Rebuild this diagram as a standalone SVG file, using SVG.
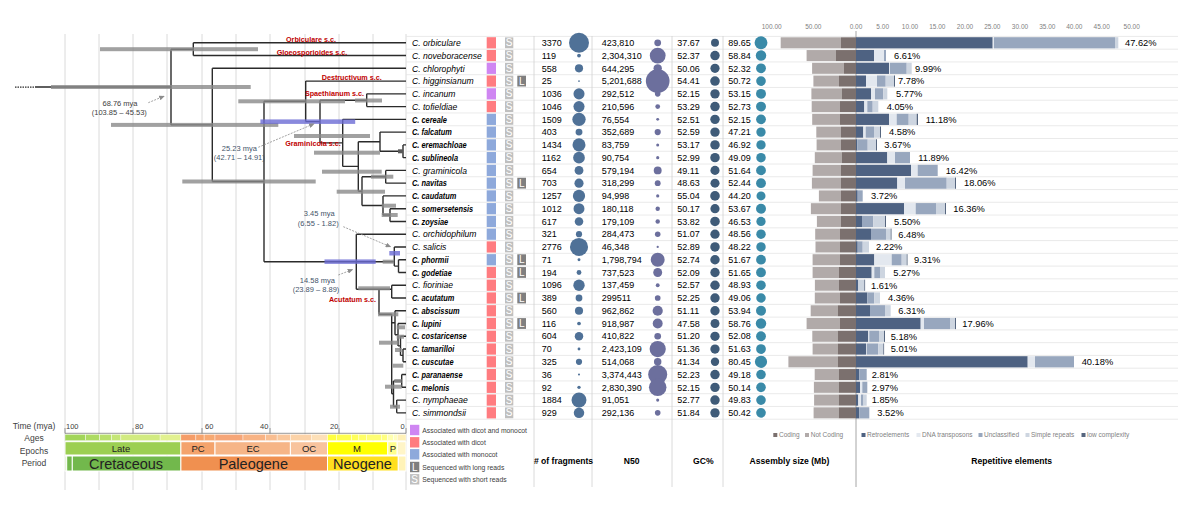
<svg xmlns="http://www.w3.org/2000/svg" xmlns:xlink="http://www.w3.org/1999/xlink" width="1183" height="515" viewBox="0 0 1183 515">
<style>
text{font-family:"Liberation Sans",Arial,sans-serif}
.br{stroke:#2b2b2b;stroke-width:1.4;fill:none}
.hpd{fill:#8a8a8a;opacity:.8}
.hpdb{fill:#6b6bd4;opacity:.8}
.cl{font-weight:bold;font-size:7.2px;fill:#c00000;text-anchor:middle}
.ann{font-size:7.5px;fill:#44546a;text-anchor:middle}
.ar{stroke:#8c8c8c;stroke-width:.8;fill:none;stroke-dasharray:2 1.2}
.nm{font-style:italic;font-size:8.6px;fill:#000}
.nb{font-style:italic;font-weight:bold;font-size:8.6px;fill:#000}
.num{font-size:9px;fill:#000}
.pl{font-size:9.3px;fill:#000}
.hD{fill:#ff7c80}.hM{fill:#8ea9db}.hB{fill:#cf86f2}
.bx{font-size:10px;fill:#fff;text-anchor:middle}
.cf{fill:#4f7197}.cn{fill:#6c6f9d}.cg{fill:#3f5b78}.ca{fill:#3a8aa8}
.nc{fill:#b1aaa9}.co{fill:#7b706e}
.re{fill:#4e6282}.dn{fill:#e3e8ef}.un{fill:#98a7be}.sr{fill:#cdd5e0}.lc{fill:#56667f}
.ax{font-size:6.5px;fill:#7f7f7f;text-anchor:middle}
.lg{font-size:6.8px;fill:#404040}
.hd{font-weight:bold;font-size:8.6px;fill:#000;text-anchor:middle}
.ts{font-size:8.5px;fill:#404040;text-anchor:middle}
.ep{font-size:9.5px;fill:#222;text-anchor:middle}
.pe{font-size:14.5px;fill:#222;text-anchor:middle}
</style>
<defs>
<g id="sbox"><rect x="505" y="-5.4" width="8.3" height="10.8" fill="#bfbfbf"/><text class="bx" x="509.2" y="3.6">S</text></g>
<g id="lbox"><rect x="517.3" y="-5.4" width="8.7" height="10.8" fill="#7f7f7f"/><text class="bx" x="521.7" y="3.6">L</text></g>
<marker id="ah" markerWidth="7" markerHeight="6" refX="6" refY="3" orient="auto"><path d="M0,0L7,3L0,6z" fill="#8c8c8c"/></marker>
</defs>
<rect width="1183" height="515" fill="#fff"/>

<g id="gridlines" stroke="#dadada" stroke-width="1">
<path d="M65 34V490M99 34V490M133 34V490M167 34V490M202 34V490M236 34V490M270 34V490M305 34V490M339 34V490M373 34V490M406 34V490"/>
</g>

<g id="separators" stroke="#e4e4e4" stroke-width="0.8" fill="none">
<path d="M406 36.42H1178M406 49.18H1178M406 61.94H1178M406 74.7H1178M406 87.46H1178M406 100.22H1178M406 112.98H1178M406 125.74H1178M406 138.5H1178M406 151.26H1178M406 164.02H1178M406 176.78H1178M406 189.54H1178M406 202.3H1178M406 215.06H1178M406 227.82H1178M406 240.58H1178M406 253.34H1178M406 266.1H1178M406 278.86H1178M406 291.62H1178M406 304.38H1178M406 317.14H1178M406 329.9H1178M406 342.66H1178M406 355.42H1178M406 368.18H1178M406 380.94H1178M406 393.7H1178M406 406.46H1178M406 419.22H1178"/>
<path stroke="#d0d0d0" d="M534 36V487M592 36V487M672 36V487M723 36V487"/>
<path stroke="#a6a6a6" stroke-width="1" d="M856 31V487"/>
</g>

<g id="connectors">
<path d="M15 87.05H35" stroke="#2b2b2b" stroke-width="1.2" stroke-dasharray="1.5 1"/>
<path class="br" d="M35 87.05H171M171 49.2V124.9M171 49.2H193.3M193.3 42.8V55.56M193.3 42.8H406M193.3 55.56H406
M171 124.9H212.3M212.3 68.32V181.5M212.3 68.32H406M212.3 181.5H264M264 101.3V261.7
M264 101.3H305.7M305.7 81.08V121.6M305.7 81.08H406M305.7 121.6H320M320 100.2V142.9
M320 100.2H366.7M366.7 93.84V106.6M366.7 93.84H406M366.7 106.6H406
M320 142.9H342.7M342.7 119.36V166.4M342.7 119.36H406M342.7 166.4H358.3M358.3 141.7V191.2
M358.3 141.7H380M380 132.12V151.26M380 132.12H406M380 151.26H403M403 144.88V157.64M403 144.88H406M403 157.64H406
M358.3 191.2H362M362 176.8V205.5M362 176.8H385.7M385.7 170.4V183.16M385.7 170.4H406M385.7 183.16H406
M362 205.5H383M383 195.92V215.06M383 195.92H406M383 215.06H390M390 208.68V221.44M390 208.68H406M390 221.44H406
M264 261.7H394.3M356.3 234.2V289.3M356.3 234.2H406
M394.3 246.96V266.1M394.3 246.96H406M394.3 266.1H398.5M398.5 259.72V272.48M398.5 259.72H406M398.5 272.48H406
M356.3 289.3H379M379 289.3V314.3M379 289.3H391.7M391.7 285.24V298M391.7 285.24H406M391.7 298H406
M379 314.3H391.7M391.7 314.3V393.7M391.7 322.7H395M395 310.76V334.7M395 310.76H406M395 334.7H398M398 323.52V345.9M398 323.52H406
M398 345.9H400.5M400.5 336.28V355.4M400.5 336.28H406M400.5 355.4H403M403 349.04V361.8M403 349.04H406M403 361.8H406
M391.7 393.7H393.5M393.5 381V406.5M393.5 381H401.7M401.7 374.56V387.32M401.7 374.56H406M401.7 387.32H406
M393.5 406.5H396.7M396.7 400.08V412.84M396.7 400.08H406M396.7 412.84H406"/>
</g>

<g id="hpd-bars">
<rect class="hpd" x="51" y="85" width="199.7" height="4"/>
<rect class="hpd" x="100" y="47.2" width="158" height="4"/>
<rect class="hpd" x="111" y="122.9" width="167.3" height="4"/>
<rect class="hpd" x="182.3" y="179.5" width="133.4" height="4"/>
<rect class="hpd" x="238.3" y="99.3" width="106.7" height="4"/>
<rect class="hpd" x="355" y="98.5" width="27" height="4"/>
<rect class="hpdb" x="260.4" y="119.4" width="94.8" height="4.5"/>
<rect class="hpd" x="294" y="134" width="76" height="4"/>
<rect class="hpd" x="314" y="150.7" width="66" height="4"/>
<rect class="hpd" x="322" y="169.7" width="59.7" height="4"/>
<rect class="hpd" x="371" y="174.7" width="22.3" height="4"/>
<rect class="hpd" x="336.7" y="189.7" width="48.3" height="4"/>
<rect class="hpd" x="381.7" y="203.7" width="14.3" height="4"/>
<rect class="hpd" x="381.7" y="213" width="16" height="4"/>
<rect fill="#595959" x="398" y="149.3" width="5" height="4"/>
<rect class="hpdb" x="324.5" y="259.4" width="51.2" height="4.5"/>
<rect class="hpd" x="382.7" y="259.7" width="11.6" height="4"/>
<rect class="hpdb" x="389.3" y="251" width="10.7" height="4.5"/>
<rect class="hpd" x="358.3" y="286.3" width="31.7" height="4"/>
<rect class="hpd" x="378" y="312.3" width="20.3" height="4"/>
<rect class="hpd" x="396.7" y="325.3" width="8.3" height="4"/>
<rect class="hpd" x="396.7" y="334.7" width="7.3" height="4"/>
<rect class="hpd" x="379" y="340.7" width="19.3" height="4"/>
<rect class="hpd" x="395" y="348" width="6.7" height="4"/>
<rect class="hpd" x="392.7" y="363.7" width="10.6" height="4"/>
<rect class="hpd" x="394.3" y="379" width="7.4" height="4"/>
<rect class="hpd" x="385" y="384.7" width="16.7" height="4"/>
<rect class="hpd" x="390" y="404.7" width="10" height="4"/>
</g>

<g id="clade-labels">
<text class="cl" x="311" y="42">Orbiculare s.c.</text>
<text class="cl" x="312" y="54.5">Gloeosporioides s.c.</text>
<text class="cl" x="351.7" y="79.5">Destructivum s.c.</text>
<text class="cl" x="334.5" y="95.5">Spaethianum s.c.</text>
<text class="cl" x="313" y="146">Graminicola s.c.</text>
<text class="cl" x="352.5" y="302">Acutatum s.c.</text>
</g>

<g id="annotations">
<text class="ann" x="120" y="105.5" fill="#404040" style="fill:#404040">68.76 mya</text>
<text class="ann" x="119.3" y="114.5" style="fill:#404040">(103.85 – 45.53)</text>
<path class="ar" d="M148.3 102.7L164 96.2" marker-end="url(#ah)"/>
<text class="ann" x="239.3" y="151">25.23 mya</text>
<text class="ann" x="239.3" y="160">(42.71 – 14.91)</text>
<path class="ar" d="M258.3 147.3L314 123.8" marker-end="url(#ah)"/>
<text class="ann" x="319.3" y="216">3.45 mya</text>
<text class="ann" x="318.3" y="226">(6.55 - 1.82)</text>
<path class="ar" d="M343.3 226.7L390.5 246.8" marker-end="url(#ah)" stroke-dasharray="1 1"/>
<text class="ann" x="317.3" y="282.7">14.58 mya</text>
<text class="ann" x="316" y="291.7">(23.89 – 8.89)</text>
<path class="ar" d="M338.3 275L352.5 269.6" marker-end="url(#ah)"/>
</g>

<g id="timescale">
<text class="ts" x="34" y="428.5">Time (mya)</text>
<text class="ts" x="34" y="441">Ages</text>
<text class="ts" x="34" y="453.5">Epochs</text>
<text class="ts" x="34" y="466">Period</text>
<path d="M65 433.3H406M133 428V433.3M202 428V433.3M270 428V433.3M339 428V433.3M65 428V433.3M406 428V433.3" stroke="#7f7f7f" stroke-width="0.8" fill="none"/>
<g font-size="7.5" fill="#404040">
<text x="66" y="429">100</text><text x="135" y="429">80</text><text x="205" y="429">60</text><text x="260" y="429">40</text><text x="330" y="429">20</text><text x="400.5" y="429">0</text>
</g>
<g id="ages" stroke="#fff" stroke-width="0.4">
<rect x="65" y="434.3" width="20.8" height="6.4" fill="#a2d55a"/>
<rect x="85.8" y="434.3" width="14" height="6.4" fill="#addb62"/>
<rect x="99.8" y="434.3" width="11.9" height="6.4" fill="#b9e06c"/>
<rect x="111.7" y="434.3" width="9.2" height="6.4" fill="#c5e676"/>
<rect x="120.9" y="434.3" width="39.2" height="6.4" fill="#d2eb81"/>
<rect x="160.1" y="434.3" width="20.8" height="6.4" fill="#e2f190"/>
<rect x="180.9" y="434.3" width="15" height="6.4" fill="#f59d68"/>
<rect x="195.9" y="434.3" width="8.2" height="6.4" fill="#f6a46d"/>
<rect x="204.1" y="434.3" width="10.9" height="6.4" fill="#f7a972"/>
<rect x="215" y="434.3" width="28" height="6.4" fill="#f6a678"/>
<rect x="243" y="434.3" width="22.5" height="6.4" fill="#f8b384"/>
<rect x="265.5" y="434.3" width="11.6" height="6.4" fill="#f9be91"/>
<rect x="277.1" y="434.3" width="13.3" height="6.4" fill="#fac89d"/>
<rect x="290.4" y="434.3" width="20.8" height="6.4" fill="#fcd3a8"/>
<rect x="311.2" y="434.3" width="16.3" height="6.4" fill="#fde0b8"/>
<rect x="327.5" y="434.3" width="8.8" height="6.4" fill="#ffff40"/>
<rect x="336.3" y="434.3" width="15.2" height="6.4" fill="#ffff4d"/>
<rect x="351.5" y="434.3" width="7.4" height="6.4" fill="#ffff59"/>
<rect x="358.9" y="434.3" width="7.4" height="6.4" fill="#ffff66"/>
<rect x="366.3" y="434.3" width="15" height="6.4" fill="#ffff73"/>
<rect x="381.3" y="434.3" width="6.5" height="6.4" fill="#ffff80"/>
<rect x="387.8" y="434.3" width="5.9" height="6.4" fill="#ffffb0"/>
<rect x="393.7" y="434.3" width="3.5" height="6.4" fill="#ffffbf"/>
<rect x="397.2" y="434.3" width="8.8" height="6.4" fill="#fff1b8"/>
</g>
<g id="epochs" stroke="#fff" stroke-width="1">
<rect x="65" y="441.7" width="115.9" height="13.3" fill="#9ccf52"/>
<rect x="180.9" y="441.7" width="34.1" height="13.3" fill="#f4a36c"/>
<rect x="215" y="441.7" width="75.4" height="13.3" fill="#f6b587"/>
<rect x="290.4" y="441.7" width="37.1" height="13.3" fill="#f8c39d"/>
<rect x="327.5" y="441.7" width="60.3" height="13.3" fill="#ffff00"/>
<rect x="387.8" y="441.7" width="9.4" height="13.3" fill="#ffff8c"/>
<rect x="397.2" y="441.7" width="8.8" height="13.3" fill="#fff5c8"/>
</g>
<text class="ep" x="121" y="451.7">Late</text>
<text class="ep" x="198" y="451.7">PC</text>
<text class="ep" x="253" y="451.7">EC</text>
<text class="ep" x="309" y="451.7">OC</text>
<text class="ep" x="357" y="451.7">M</text>
<text class="ep" x="393" y="451.7">P</text>
<g id="periods" stroke="#fff" stroke-width="1">
<rect x="65" y="456" width="1.6" height="15" fill="#cfe8b0"/>
<rect x="66.7" y="456" width="5.6" height="15" fill="#72b84c"/>
<rect x="72.3" y="456" width="108.6" height="15" fill="#72b84c"/>
<rect x="180.9" y="456" width="146.6" height="15" fill="#f09050"/>
<rect x="327.5" y="456" width="70.8" height="15" fill="#ffdf1e"/>
<rect x="398.3" y="456" width="7.7" height="15" fill="#fff3b8"/>
</g>
<text class="pe" x="126" y="468.5">Cretaceous</text>
<text class="pe" x="253.3" y="468.5">Paleogene</text>
<text class="pe" x="362.5" y="468.5">Neogene</text>
</g>

<g id="scale-top">
<text class="ax" x="771.7" y="28.5">100.00</text>
<text class="ax" x="813.3" y="28.5">50.00</text>
<text class="ax" x="856" y="28.5">0.00</text>
<text class="ax" x="882.7" y="28.5">5.00</text>
<text class="ax" x="910" y="28.5">10.00</text>
<text class="ax" x="937.3" y="28.5">15.00</text>
<text class="ax" x="965" y="28.5">20.00</text>
<text class="ax" x="992.3" y="28.5">25.00</text>
<text class="ax" x="1020" y="28.5">30.00</text>
<text class="ax" x="1047.3" y="28.5">35.00</text>
<text class="ax" x="1074.3" y="28.5">40.00</text>
<text class="ax" x="1101.7" y="28.5">45.00</text>
<text class="ax" x="1131.7" y="28.5">50.00</text>
</g>

<g id="row-orbiculare" transform="translate(0 42.8)">
<text class="nm" x="412" y="3.2">C. orbiculare</text><rect class="hD" x="486.7" y="-5.6" width="9.3" height="11.2"/><use xlink:href="#sbox"/>
<text class="num" x="541.7" y="3.2">3370</text><circle class="cf" cx="579" cy="0" r="9.98"/>
<text class="num" x="601.7" y="3.2">423,810</text><circle class="cn" cx="657.7" cy="0" r="3.39"/>
<text class="num" x="677.3" y="3.2">37.67</text><circle class="cg" cx="715" cy="0" r="3.99"/>
<text class="num" x="728.3" y="3.2">89.65</text><circle class="ca" cx="761" cy="0" r="6.44"/>
<rect class="nc" x="780.7" y="-5.5" width="60.3" height="11"/><rect class="co" x="841" y="-5.5" width="15" height="11"/>
<rect class="re" x="856" y="-5.6" width="136.7" height="11.2"/><rect class="dn" x="992.7" y="-5.6" width="1.3" height="11.2"/><rect class="un" x="994" y="-5.6" width="121" height="11.2"/><rect class="sr" x="1115" y="-5.6" width="3.3" height="11.2"/>
<text class="pl" x="1125" y="3.3">47.62%</text>
</g>
<g id="row-noveboracense" transform="translate(0 55.56)">
<text class="nm" x="412" y="3.2">C. noveboracense</text><rect class="hD" x="486.7" y="-5.6" width="9.3" height="11.2"/><use xlink:href="#sbox"/>
<text class="num" x="541.7" y="3.2">119</text><circle class="cf" cx="579" cy="0" r="1.88"/>
<text class="num" x="601.7" y="3.2">2,304,310</text><circle class="cn" cx="657.7" cy="0" r="7.89"/>
<text class="num" x="677.3" y="3.2">52.37</text><circle class="cg" cx="715" cy="0" r="4.7"/>
<text class="num" x="728.3" y="3.2">58.84</text><circle class="ca" cx="761" cy="0" r="5.22"/>
<rect class="nc" x="806.6" y="-5.5" width="29.1" height="11"/><rect class="co" x="835.7" y="-5.5" width="20.3" height="11"/>
<rect class="re" x="856" y="-5.6" width="18" height="11.2"/><rect class="dn" x="874" y="-5.6" width="10" height="11.2"/><rect class="un" x="884" y="-5.6" width="2" height="11.2"/>
<text class="pl" x="894" y="3.3">6.61%</text>
</g>
<g id="row-chlorophyti" transform="translate(0 68.32)">
<text class="nm" x="412" y="3.2">C. chlorophyti</text><rect class="hB" x="486.7" y="-5.6" width="9.3" height="11.2"/><use xlink:href="#sbox"/>
<text class="num" x="541.7" y="3.2">558</text><circle class="cf" cx="579" cy="0" r="4.06"/>
<text class="num" x="601.7" y="3.2">644,295</text><circle class="cn" cx="657.7" cy="0" r="4.17"/>
<text class="num" x="677.3" y="3.2">50.06</text><circle class="cg" cx="715" cy="0" r="4.6"/>
<text class="num" x="728.3" y="3.2">52.32</text><circle class="ca" cx="761" cy="0" r="4.92"/>
<rect class="nc" x="812.1" y="-5.5" width="31.9" height="11"/><rect class="co" x="844" y="-5.5" width="12" height="11"/>
<rect class="re" x="856" y="-5.6" width="33" height="11.2"/><rect class="dn" x="889" y="-5.6" width="1" height="11.2"/><rect class="un" x="890" y="-5.6" width="16.7" height="11.2"/><rect class="sr" x="906.7" y="-5.6" width="5" height="11.2"/>
<text class="pl" x="915" y="3.3">9.99%</text>
</g>
<g id="row-higginsianum" transform="translate(0 81.08)">
<text class="nm" x="412" y="3.2">C. higginsianum</text><rect class="hD" x="486.7" y="-5.6" width="9.3" height="11.2"/><use xlink:href="#sbox"/><use xlink:href="#lbox"/>
<text class="num" x="541.7" y="3.2">25</text><circle class="cf" cx="579" cy="0" r="0.86"/>
<text class="num" x="601.7" y="3.2">5,201,688</text><circle class="cn" cx="657.7" cy="0" r="11.86"/>
<text class="num" x="677.3" y="3.2">54.41</text><circle class="cg" cx="715" cy="0" r="4.79"/>
<text class="num" x="728.3" y="3.2">50.72</text><circle class="ca" cx="761" cy="0" r="4.84"/>
<rect class="nc" x="813.4" y="-5.5" width="25.6" height="11"/><rect class="co" x="839" y="-5.5" width="17" height="11"/>
<rect class="re" x="856" y="-5.6" width="10" height="11.2"/><rect class="dn" x="866" y="-5.6" width="11" height="11.2"/><rect class="un" x="877" y="-5.6" width="8.7" height="11.2"/><rect class="sr" x="885.7" y="-5.6" width="8.3" height="11.2"/><rect class="lc" x="894" y="-5.6" width="1" height="11.2"/>
<text class="pl" x="898" y="3.3">7.78%</text>
</g>
<g id="row-incanum" transform="translate(0 93.84)">
<text class="nm" x="412" y="3.2">C. incanum</text><rect class="hB" x="486.7" y="-5.6" width="9.3" height="11.2"/><use xlink:href="#sbox"/>
<text class="num" x="541.7" y="3.2">1036</text><circle class="cf" cx="579" cy="0" r="5.54"/>
<text class="num" x="601.7" y="3.2">292,512</text><circle class="cn" cx="657.7" cy="0" r="2.81"/>
<text class="num" x="677.3" y="3.2">52.15</text><circle class="cg" cx="715" cy="0" r="4.69"/>
<text class="num" x="728.3" y="3.2">53.15</text><circle class="ca" cx="761" cy="0" r="4.96"/>
<rect class="nc" x="811.4" y="-5.5" width="30.3" height="11"/><rect class="co" x="841.7" y="-5.5" width="14.3" height="11"/>
<rect class="re" x="856" y="-5.6" width="15" height="11.2"/><rect class="dn" x="871" y="-5.6" width="4" height="11.2"/><rect class="un" x="875" y="-5.6" width="8.3" height="11.2"/><rect class="sr" x="883.3" y="-5.6" width="4" height="11.2"/>
<text class="pl" x="896" y="3.3">5.77%</text>
</g>
<g id="row-tofieldiae" transform="translate(0 106.6)">
<text class="nm" x="412" y="3.2">C. tofieldiae</text><rect class="hD" x="486.7" y="-5.6" width="9.3" height="11.2"/><use xlink:href="#sbox"/>
<text class="num" x="541.7" y="3.2">1046</text><circle class="cf" cx="579" cy="0" r="5.56"/>
<text class="num" x="601.7" y="3.2">210,596</text><circle class="cn" cx="657.7" cy="0" r="2.39"/>
<text class="num" x="677.3" y="3.2">53.29</text><circle class="cg" cx="715" cy="0" r="4.75"/>
<text class="num" x="728.3" y="3.2">52.73</text><circle class="ca" cx="761" cy="0" r="4.94"/>
<rect class="nc" x="811.7" y="-5.5" width="28.3" height="11"/><rect class="co" x="840" y="-5.5" width="16" height="11"/>
<rect class="re" x="856" y="-5.6" width="8.3" height="11.2"/><rect class="dn" x="864.3" y="-5.6" width="3" height="11.2"/><rect class="un" x="867.3" y="-5.6" width="5.4" height="11.2"/><rect class="sr" x="872.7" y="-5.6" width="5.6" height="11.2"/>
<text class="pl" x="886.7" y="3.3">4.05%</text>
</g>
<g id="row-cereale" transform="translate(0 119.36)">
<text class="nb" transform="translate(412 3.2) scale(0.86 1)">C. cereale</text><rect class="hM" x="486.7" y="-5.6" width="9.3" height="11.2"/><use xlink:href="#sbox"/>
<text class="num" x="541.7" y="3.2">1509</text><circle class="cf" cx="579" cy="0" r="6.68"/>
<text class="num" x="601.7" y="3.2">76,554</text><circle class="cn" cx="657.7" cy="0" r="1.44"/>
<text class="num" x="677.3" y="3.2">52.51</text><circle class="cg" cx="715" cy="0" r="4.71"/>
<text class="num" x="728.3" y="3.2">52.15</text><circle class="ca" cx="761" cy="0" r="4.91"/>
<rect class="nc" x="812.2" y="-5.5" width="27.8" height="11"/><rect class="co" x="840" y="-5.5" width="16" height="11"/>
<rect class="re" x="856" y="-5.6" width="33" height="11.2"/><rect class="dn" x="889" y="-5.6" width="7.7" height="11.2"/><rect class="un" x="896.7" y="-5.6" width="12" height="11.2"/><rect class="sr" x="908.7" y="-5.6" width="8" height="11.2"/><rect class="lc" x="916.7" y="-5.6" width="1.3" height="11.2"/>
<text class="pl" x="925.7" y="3.3">11.18%</text>
</g>
<g id="row-falcatum" transform="translate(0 132.12)">
<text class="nb" transform="translate(412 3.2) scale(0.86 1)">C. falcatum</text><rect class="hM" x="486.7" y="-5.6" width="9.3" height="11.2"/><use xlink:href="#sbox"/>
<text class="num" x="541.7" y="3.2">403</text><circle class="cf" cx="579" cy="0" r="3.45"/>
<text class="num" x="601.7" y="3.2">352,689</text><circle class="cn" cx="657.7" cy="0" r="3.09"/>
<text class="num" x="677.3" y="3.2">52.59</text><circle class="cg" cx="715" cy="0" r="4.71"/>
<text class="num" x="728.3" y="3.2">47.21</text><circle class="ca" cx="761" cy="0" r="4.67"/>
<rect class="nc" x="816.3" y="-5.5" width="24.7" height="11"/><rect class="co" x="841" y="-5.5" width="15" height="11"/>
<rect class="re" x="856" y="-5.6" width="7.3" height="11.2"/><rect class="dn" x="863.3" y="-5.6" width="2.4" height="11.2"/><rect class="un" x="865.7" y="-5.6" width="8.3" height="11.2"/><rect class="sr" x="874" y="-5.6" width="6" height="11.2"/><rect class="lc" x="880" y="-5.6" width="1" height="11.2"/>
<text class="pl" x="889" y="3.3">4.58%</text>
</g>
<g id="row-eremachloae" transform="translate(0 144.88)">
<text class="nb" transform="translate(412 3.2) scale(0.86 1)">C. eremachloae</text><rect class="hM" x="486.7" y="-5.6" width="9.3" height="11.2"/><use xlink:href="#sbox"/>
<text class="num" x="541.7" y="3.2">1434</text><circle class="cf" cx="579" cy="0" r="6.51"/>
<text class="num" x="601.7" y="3.2">83,759</text><circle class="cn" cx="657.7" cy="0" r="1.5"/>
<text class="num" x="677.3" y="3.2">53.17</text><circle class="cg" cx="715" cy="0" r="4.74"/>
<text class="num" x="728.3" y="3.2">46.92</text><circle class="ca" cx="761" cy="0" r="4.66"/>
<rect class="nc" x="816.6" y="-5.5" width="24.4" height="11"/><rect class="co" x="841" y="-5.5" width="15" height="11"/>
<rect class="re" x="856" y="-5.6" width="1.3" height="11.2"/><rect class="un" x="857.3" y="-5.6" width="10.4" height="11.2"/><rect class="sr" x="867.7" y="-5.6" width="8.3" height="11.2"/><rect class="lc" x="876" y="-5.6" width="1" height="11.2"/>
<text class="pl" x="884.3" y="3.3">3.67%</text>
</g>
<g id="row-sublineola" transform="translate(0 157.64)">
<text class="nb" transform="translate(412 3.2) scale(0.86 1)">C. sublineola</text><rect class="hM" x="486.7" y="-5.6" width="9.3" height="11.2"/><use xlink:href="#sbox"/>
<text class="num" x="541.7" y="3.2">1162</text><circle class="cf" cx="579" cy="0" r="5.86"/>
<text class="num" x="601.7" y="3.2">90,754</text><circle class="cn" cx="657.7" cy="0" r="1.57"/>
<text class="num" x="677.3" y="3.2">52.99</text><circle class="cg" cx="715" cy="0" r="4.73"/>
<text class="num" x="728.3" y="3.2">49.09</text><circle class="ca" cx="761" cy="0" r="4.76"/>
<rect class="nc" x="814.8" y="-5.5" width="26.9" height="11"/><rect class="co" x="841.7" y="-5.5" width="14.3" height="11"/>
<rect class="re" x="856" y="-5.6" width="31.3" height="11.2"/><rect class="dn" x="887.3" y="-5.6" width="7.7" height="11.2"/><rect class="un" x="895" y="-5.6" width="15" height="11.2"/>
<text class="pl" x="918.3" y="3.3">11.89%</text>
</g>
<g id="row-graminicola" transform="translate(0 170.4)">
<text class="nm" x="412" y="3.2">C. graminicola</text><rect class="hM" x="486.7" y="-5.6" width="9.3" height="11.2"/><use xlink:href="#sbox"/>
<text class="num" x="541.7" y="3.2">654</text><circle class="cf" cx="579" cy="0" r="4.4"/>
<text class="num" x="601.7" y="3.2">579,194</text><circle class="cn" cx="657.7" cy="0" r="3.96"/>
<text class="num" x="677.3" y="3.2">49.11</text><circle class="cg" cx="715" cy="0" r="4.56"/>
<text class="num" x="728.3" y="3.2">51.64</text><circle class="ca" cx="761" cy="0" r="4.89"/>
<rect class="nc" x="812.6" y="-5.5" width="28.4" height="11"/><rect class="co" x="841" y="-5.5" width="15" height="11"/>
<rect class="re" x="856" y="-5.6" width="55" height="11.2"/><rect class="dn" x="911" y="-5.6" width="6.7" height="11.2"/><rect class="un" x="917.7" y="-5.6" width="20" height="11.2"/>
<text class="pl" x="945.7" y="3.3">16.42%</text>
</g>
<g id="row-navitas" transform="translate(0 183.16)">
<text class="nb" transform="translate(412 3.2) scale(0.86 1)">C. navitas</text><rect class="hM" x="486.7" y="-5.6" width="9.3" height="11.2"/><use xlink:href="#sbox"/><use xlink:href="#lbox"/>
<text class="num" x="541.7" y="3.2">703</text><circle class="cf" cx="579" cy="0" r="4.56"/>
<text class="num" x="601.7" y="3.2">318,299</text><circle class="cn" cx="657.7" cy="0" r="2.93"/>
<text class="num" x="677.3" y="3.2">48.63</text><circle class="cg" cx="715" cy="0" r="4.53"/>
<text class="num" x="728.3" y="3.2">52.44</text><circle class="ca" cx="761" cy="0" r="4.92"/>
<rect class="nc" x="811.9" y="-5.5" width="29.1" height="11"/><rect class="co" x="841" y="-5.5" width="15" height="11"/>
<rect class="re" x="856" y="-5.6" width="41.3" height="11.2"/><rect class="dn" x="897.3" y="-5.6" width="7.7" height="11.2"/><rect class="un" x="905" y="-5.6" width="41.7" height="11.2"/><rect class="sr" x="946.7" y="-5.6" width="8.3" height="11.2"/><rect class="lc" x="955" y="-5.6" width="1" height="11.2"/>
<text class="pl" x="964" y="3.3">18.06%</text>
</g>
<g id="row-caudatum" transform="translate(0 195.92)">
<text class="nb" transform="translate(412 3.2) scale(0.86 1)">C. caudatum</text><rect class="hM" x="486.7" y="-5.6" width="9.3" height="11.2"/><use xlink:href="#sbox"/>
<text class="num" x="541.7" y="3.2">1257</text><circle class="cf" cx="579" cy="0" r="6.1"/>
<text class="num" x="601.7" y="3.2">94,998</text><circle class="cn" cx="657.7" cy="0" r="1.6"/>
<text class="num" x="677.3" y="3.2">55.04</text><circle class="cg" cx="715" cy="0" r="4.82"/>
<text class="num" x="728.3" y="3.2">44.20</text><circle class="ca" cx="761" cy="0" r="4.52"/>
<rect class="nc" x="818.9" y="-5.5" width="22.1" height="11"/><rect class="co" x="841" y="-5.5" width="15" height="11"/>
<rect class="re" x="856" y="-5.6" width="1.7" height="11.2"/><rect class="un" x="857.7" y="-5.6" width="5" height="11.2"/>
<text class="pl" x="871" y="3.3">3.72%</text>
</g>
<g id="row-somersetensis" transform="translate(0 208.68)">
<text class="nb" transform="translate(412 3.2) scale(0.86 1)">C. somersetensis</text><rect class="hM" x="486.7" y="-5.6" width="9.3" height="11.2"/><use xlink:href="#sbox"/>
<text class="num" x="541.7" y="3.2">1012</text><circle class="cf" cx="579" cy="0" r="5.47"/>
<text class="num" x="601.7" y="3.2">180,118</text><circle class="cn" cx="657.7" cy="0" r="2.21"/>
<text class="num" x="677.3" y="3.2">50.17</text><circle class="cg" cx="715" cy="0" r="4.6"/>
<text class="num" x="728.3" y="3.2">53.67</text><circle class="ca" cx="761" cy="0" r="4.98"/>
<rect class="nc" x="810.9" y="-5.5" width="30.1" height="11"/><rect class="co" x="841" y="-5.5" width="15" height="11"/>
<rect class="re" x="856" y="-5.6" width="48" height="11.2"/><rect class="dn" x="904" y="-5.6" width="11.7" height="11.2"/><rect class="un" x="915.7" y="-5.6" width="20.3" height="11.2"/><rect class="sr" x="936" y="-5.6" width="9" height="11.2"/><rect class="lc" x="945" y="-5.6" width="1" height="11.2"/>
<text class="pl" x="953.3" y="3.3">16.36%</text>
</g>
<g id="row-zoysiae" transform="translate(0 221.44)">
<text class="nb" transform="translate(412 3.2) scale(0.86 1)">C. zoysiae</text><rect class="hM" x="486.7" y="-5.6" width="9.3" height="11.2"/><use xlink:href="#sbox"/>
<text class="num" x="541.7" y="3.2">617</text><circle class="cf" cx="579" cy="0" r="4.27"/>
<text class="num" x="601.7" y="3.2">179,109</text><circle class="cn" cx="657.7" cy="0" r="2.2"/>
<text class="num" x="677.3" y="3.2">53.82</text><circle class="cg" cx="715" cy="0" r="4.77"/>
<text class="num" x="728.3" y="3.2">46.53</text><circle class="ca" cx="761" cy="0" r="4.64"/>
<rect class="nc" x="816.9" y="-5.5" width="24.1" height="11"/><rect class="co" x="841" y="-5.5" width="15" height="11"/>
<rect class="re" x="856" y="-5.6" width="6" height="11.2"/><rect class="un" x="862" y="-5.6" width="11.3" height="11.2"/><rect class="sr" x="873.3" y="-5.6" width="11.7" height="11.2"/><rect class="lc" x="885" y="-5.6" width="1" height="11.2"/>
<text class="pl" x="894" y="3.3">5.50%</text>
</g>
<g id="row-orchidophilum" transform="translate(0 234.2)">
<text class="nm" x="412" y="3.2">C. orchidophilum</text><rect class="hM" x="486.7" y="-5.6" width="9.3" height="11.2"/><use xlink:href="#sbox"/>
<text class="num" x="541.7" y="3.2">321</text><circle class="cf" cx="579" cy="0" r="3.08"/>
<text class="num" x="601.7" y="3.2">284,473</text><circle class="cn" cx="657.7" cy="0" r="2.77"/>
<text class="num" x="677.3" y="3.2">51.07</text><circle class="cg" cx="715" cy="0" r="4.65"/>
<text class="num" x="728.3" y="3.2">48.56</text><circle class="ca" cx="761" cy="0" r="4.74"/>
<rect class="nc" x="815.2" y="-5.5" width="24.8" height="11"/><rect class="co" x="840" y="-5.5" width="16" height="11"/>
<rect class="re" x="856" y="-5.6" width="15" height="11.2"/><rect class="un" x="871" y="-5.6" width="15" height="11.2"/><rect class="sr" x="886" y="-5.6" width="4.7" height="11.2"/><rect class="lc" x="890.7" y="-5.6" width="0.8" height="11.2"/>
<text class="pl" x="898.3" y="3.3">6.48%</text>
</g>
<g id="row-salicis" transform="translate(0 246.96)">
<text class="nm" x="412" y="3.2">C. salicis</text><rect class="hD" x="486.7" y="-5.6" width="9.3" height="11.2"/><use xlink:href="#sbox"/>
<text class="num" x="541.7" y="3.2">2776</text><circle class="cf" cx="579" cy="0" r="9.06"/>
<text class="num" x="601.7" y="3.2">46,348</text><circle class="cn" cx="657.7" cy="0" r="1.12"/>
<text class="num" x="677.3" y="3.2">52.89</text><circle class="cg" cx="715" cy="0" r="4.73"/>
<text class="num" x="728.3" y="3.2">48.22</text><circle class="ca" cx="761" cy="0" r="4.72"/>
<rect class="nc" x="815.5" y="-5.5" width="24.5" height="11"/><rect class="co" x="840" y="-5.5" width="16" height="11"/>
<rect class="re" x="856" y="-5.6" width="1.7" height="11.2"/><rect class="un" x="857.7" y="-5.6" width="5" height="11.2"/><rect class="sr" x="862.7" y="-5.6" width="6.3" height="11.2"/>
<text class="pl" x="876" y="3.3">2.22%</text>
</g>
<g id="row-phormii" transform="translate(0 259.72)">
<text class="nb" transform="translate(412 3.2) scale(0.86 1)">C. phormii</text><rect class="hM" x="486.7" y="-5.6" width="9.3" height="11.2"/><use xlink:href="#sbox"/><use xlink:href="#lbox"/>
<text class="num" x="541.7" y="3.2">71</text><circle class="cf" cx="579" cy="0" r="1.45"/>
<text class="num" x="601.7" y="3.2">1,798,794</text><circle class="cn" cx="657.7" cy="0" r="6.97"/>
<text class="num" x="677.3" y="3.2">52.74</text><circle class="cg" cx="715" cy="0" r="4.72"/>
<text class="num" x="728.3" y="3.2">51.67</text><circle class="ca" cx="761" cy="0" r="4.89"/>
<rect class="nc" x="812.6" y="-5.5" width="27.4" height="11"/><rect class="co" x="840" y="-5.5" width="16" height="11"/>
<rect class="re" x="856" y="-5.6" width="18.3" height="11.2"/><rect class="dn" x="874.3" y="-5.6" width="17.4" height="11.2"/><rect class="un" x="891.7" y="-5.6" width="10" height="11.2"/><rect class="sr" x="901.7" y="-5.6" width="5" height="11.2"/><rect class="lc" x="906.7" y="-5.6" width="0.8" height="11.2"/>
<text class="pl" x="914" y="3.3">9.31%</text>
</g>
<g id="row-godetiae" transform="translate(0 272.48)">
<text class="nb" transform="translate(412 3.2) scale(0.86 1)">C. godetiae</text><rect class="hD" x="486.7" y="-5.6" width="9.3" height="11.2"/><use xlink:href="#sbox"/><use xlink:href="#lbox"/>
<text class="num" x="541.7" y="3.2">194</text><circle class="cf" cx="579" cy="0" r="2.4"/>
<text class="num" x="601.7" y="3.2">737,523</text><circle class="cn" cx="657.7" cy="0" r="4.47"/>
<text class="num" x="677.3" y="3.2">52.09</text><circle class="cg" cx="715" cy="0" r="4.69"/>
<text class="num" x="728.3" y="3.2">51.65</text><circle class="ca" cx="761" cy="0" r="4.89"/>
<rect class="nc" x="812.6" y="-5.5" width="26.4" height="11"/><rect class="co" x="839" y="-5.5" width="17" height="11"/>
<rect class="re" x="856" y="-5.6" width="15.7" height="11.2"/><rect class="dn" x="871.7" y="-5.6" width="2.6" height="11.2"/><rect class="un" x="874.3" y="-5.6" width="5.7" height="11.2"/><rect class="sr" x="880" y="-5.6" width="5" height="11.2"/>
<text class="pl" x="893.3" y="3.3">5.27%</text>
</g>
<g id="row-fioriniae" transform="translate(0 285.24)">
<text class="nm" x="412" y="3.2">C. fioriniae</text><rect class="hD" x="486.7" y="-5.6" width="9.3" height="11.2"/><use xlink:href="#sbox"/>
<text class="num" x="541.7" y="3.2">1096</text><circle class="cf" cx="579" cy="0" r="5.69"/>
<text class="num" x="601.7" y="3.2">137,459</text><circle class="cn" cx="657.7" cy="0" r="1.93"/>
<text class="num" x="677.3" y="3.2">52.57</text><circle class="cg" cx="715" cy="0" r="4.71"/>
<text class="num" x="728.3" y="3.2">48.93</text><circle class="ca" cx="761" cy="0" r="4.76"/>
<rect class="nc" x="814.9" y="-5.5" width="24.1" height="11"/><rect class="co" x="839" y="-5.5" width="17" height="11"/>
<rect class="re" x="856" y="-5.6" width="2.3" height="11.2"/><rect class="sr" x="858.3" y="-5.6" width="6" height="11.2"/><rect class="lc" x="864.3" y="-5.6" width="0.8" height="11.2"/>
<text class="pl" x="871" y="3.3">1.61%</text>
</g>
<g id="row-acutatum" transform="translate(0 298)">
<text class="nb" transform="translate(412 3.2) scale(0.86 1)">C. acutatum</text><rect class="hD" x="486.7" y="-5.6" width="9.3" height="11.2"/><use xlink:href="#sbox"/><use xlink:href="#lbox"/>
<text class="num" x="541.7" y="3.2">389</text><circle class="cf" cx="579" cy="0" r="3.39"/>
<text class="num" x="601.7" y="3.2">299511</text><circle class="cn" cx="657.7" cy="0" r="2.85"/>
<text class="num" x="677.3" y="3.2">52.25</text><circle class="cg" cx="715" cy="0" r="4.7"/>
<text class="num" x="728.3" y="3.2">49.06</text><circle class="ca" cx="761" cy="0" r="4.76"/>
<rect class="nc" x="814.8" y="-5.5" width="25.2" height="11"/><rect class="co" x="840" y="-5.5" width="16" height="11"/>
<rect class="re" x="856" y="-5.6" width="11.3" height="11.2"/><rect class="un" x="867.3" y="-5.6" width="7" height="11.2"/><rect class="sr" x="874.3" y="-5.6" width="5.7" height="11.2"/>
<text class="pl" x="888" y="3.3">4.36%</text>
</g>
<g id="row-abscissum" transform="translate(0 310.76)">
<text class="nb" transform="translate(412 3.2) scale(0.86 1)">C. abscissum</text><rect class="hD" x="486.7" y="-5.6" width="9.3" height="11.2"/><use xlink:href="#sbox"/>
<text class="num" x="541.7" y="3.2">560</text><circle class="cf" cx="579" cy="0" r="4.07"/>
<text class="num" x="601.7" y="3.2">962,862</text><circle class="cn" cx="657.7" cy="0" r="5.1"/>
<text class="num" x="677.3" y="3.2">51.11</text><circle class="cg" cx="715" cy="0" r="4.65"/>
<text class="num" x="728.3" y="3.2">53.94</text><circle class="ca" cx="761" cy="0" r="4.99"/>
<rect class="nc" x="810.7" y="-5.5" width="27" height="11"/><rect class="co" x="837.7" y="-5.5" width="18.3" height="11"/>
<rect class="re" x="856" y="-5.6" width="14" height="11.2"/><rect class="un" x="870" y="-5.6" width="15" height="11.2"/><rect class="sr" x="885" y="-5.6" width="5.7" height="11.2"/>
<text class="pl" x="898.3" y="3.3">6.31%</text>
</g>
<g id="row-lupini" transform="translate(0 323.52)">
<text class="nb" transform="translate(412 3.2) scale(0.86 1)">C. lupini</text><rect class="hD" x="486.7" y="-5.6" width="9.3" height="11.2"/><use xlink:href="#sbox"/><use xlink:href="#lbox"/>
<text class="num" x="541.7" y="3.2">116</text><circle class="cf" cx="579" cy="0" r="1.85"/>
<text class="num" x="601.7" y="3.2">918,987</text><circle class="cn" cx="657.7" cy="0" r="4.98"/>
<text class="num" x="677.3" y="3.2">47.58</text><circle class="cg" cx="715" cy="0" r="4.48"/>
<text class="num" x="728.3" y="3.2">58.76</text><circle class="ca" cx="761" cy="0" r="5.21"/>
<rect class="nc" x="806.6" y="-5.5" width="33.4" height="11"/><rect class="co" x="840" y="-5.5" width="16" height="11"/>
<rect class="re" x="856" y="-5.6" width="64.7" height="11.2"/><rect class="dn" x="920.7" y="-5.6" width="3.3" height="11.2"/><rect class="un" x="924" y="-5.6" width="26" height="11.2"/><rect class="sr" x="950" y="-5.6" width="5" height="11.2"/><rect class="lc" x="955" y="-5.6" width="1" height="11.2"/>
<text class="pl" x="962.3" y="3.3">17.96%</text>
</g>
<g id="row-costaricense" transform="translate(0 336.28)">
<text class="nb" transform="translate(412 3.2) scale(0.86 1)">C. costaricense</text><rect class="hD" x="486.7" y="-5.6" width="9.3" height="11.2"/><use xlink:href="#sbox"/>
<text class="num" x="541.7" y="3.2">604</text><circle class="cf" cx="579" cy="0" r="4.23"/>
<text class="num" x="601.7" y="3.2">410,822</text><circle class="cn" cx="657.7" cy="0" r="3.33"/>
<text class="num" x="677.3" y="3.2">51.20</text><circle class="cg" cx="715" cy="0" r="4.65"/>
<text class="num" x="728.3" y="3.2">52.08</text><circle class="ca" cx="761" cy="0" r="4.91"/>
<rect class="nc" x="812.3" y="-5.5" width="25.4" height="11"/><rect class="co" x="837.7" y="-5.5" width="18.3" height="11"/>
<rect class="re" x="856" y="-5.6" width="12.3" height="11.2"/><rect class="dn" x="868.3" y="-5.6" width="1" height="11.2"/><rect class="un" x="869.3" y="-5.6" width="9.7" height="11.2"/><rect class="sr" x="879" y="-5.6" width="5" height="11.2"/><rect class="lc" x="884" y="-5.6" width="1" height="11.2"/>
<text class="pl" x="890.7" y="3.3">5.18%</text>
</g>
<g id="row-tamarilloi" transform="translate(0 349.04)">
<text class="nb" transform="translate(412 3.2) scale(0.86 1)">C. tamarilloi</text><rect class="hD" x="486.7" y="-5.6" width="9.3" height="11.2"/><use xlink:href="#sbox"/>
<text class="num" x="541.7" y="3.2">70</text><circle class="cf" cx="579" cy="0" r="1.44"/>
<text class="num" x="601.7" y="3.2">2,423,109</text><circle class="cn" cx="657.7" cy="0" r="8.09"/>
<text class="num" x="677.3" y="3.2">51.36</text><circle class="cg" cx="715" cy="0" r="4.66"/>
<text class="num" x="728.3" y="3.2">51.63</text><circle class="ca" cx="761" cy="0" r="4.89"/>
<rect class="nc" x="812.6" y="-5.5" width="25.1" height="11"/><rect class="co" x="837.7" y="-5.5" width="18.3" height="11"/>
<rect class="re" x="856" y="-5.6" width="10" height="11.2"/><rect class="dn" x="866" y="-5.6" width="0.7" height="11.2"/><rect class="un" x="866.7" y="-5.6" width="11.6" height="11.2"/><rect class="sr" x="878.3" y="-5.6" width="5" height="11.2"/><rect class="lc" x="883.3" y="-5.6" width="0.8" height="11.2"/>
<text class="pl" x="890.7" y="3.3">5.01%</text>
</g>
<g id="row-cuscutae" transform="translate(0 361.8)">
<text class="nb" transform="translate(412 3.2) scale(0.86 1)">C. cuscutae</text><rect class="hD" x="486.7" y="-5.6" width="9.3" height="11.2"/><use xlink:href="#sbox"/>
<text class="num" x="541.7" y="3.2">325</text><circle class="cf" cx="579" cy="0" r="3.1"/>
<text class="num" x="601.7" y="3.2">514,068</text><circle class="cn" cx="657.7" cy="0" r="3.73"/>
<text class="num" x="677.3" y="3.2">41.34</text><circle class="cg" cx="715" cy="0" r="4.18"/>
<text class="num" x="728.3" y="3.2">80.45</text><circle class="ca" cx="761" cy="0" r="6.1"/>
<rect class="nc" x="788.4" y="-5.5" width="49.3" height="11"/><rect class="co" x="837.7" y="-5.5" width="18.3" height="11"/>
<rect class="re" x="856" y="-5.6" width="171.7" height="11.2"/><rect class="dn" x="1027.7" y="-5.6" width="7.3" height="11.2"/><rect class="un" x="1035" y="-5.6" width="39" height="11.2"/>
<text class="pl" x="1081.7" y="3.3">40.18%</text>
</g>
<g id="row-paranaense" transform="translate(0 374.56)">
<text class="nb" transform="translate(412 3.2) scale(0.86 1)">C. paranaense</text><rect class="hD" x="486.7" y="-5.6" width="9.3" height="11.2"/><use xlink:href="#sbox"/>
<text class="num" x="541.7" y="3.2">36</text><circle class="cf" cx="579" cy="0" r="1.03"/>
<text class="num" x="601.7" y="3.2">3,374,443</text><circle class="cn" cx="657.7" cy="0" r="9.55"/>
<text class="num" x="677.3" y="3.2">52.23</text><circle class="cg" cx="715" cy="0" r="4.7"/>
<text class="num" x="728.3" y="3.2">49.18</text><circle class="ca" cx="761" cy="0" r="4.77"/>
<rect class="nc" x="814.7" y="-5.5" width="24" height="11"/><rect class="co" x="838.7" y="-5.5" width="17.3" height="11"/>
<rect class="re" x="856" y="-5.6" width="3.3" height="11.2"/><rect class="un" x="859.3" y="-5.6" width="7.4" height="11.2"/>
<text class="pl" x="871.7" y="3.3">2.81%</text>
</g>
<g id="row-melonis" transform="translate(0 387.32)">
<text class="nb" transform="translate(412 3.2) scale(0.86 1)">C. melonis</text><rect class="hD" x="486.7" y="-5.6" width="9.3" height="11.2"/><use xlink:href="#sbox"/>
<text class="num" x="541.7" y="3.2">92</text><circle class="cf" cx="579" cy="0" r="1.65"/>
<text class="num" x="601.7" y="3.2">2,830,390</text><circle class="cn" cx="657.7" cy="0" r="8.75"/>
<text class="num" x="677.3" y="3.2">52.15</text><circle class="cg" cx="715" cy="0" r="4.69"/>
<text class="num" x="728.3" y="3.2">50.14</text><circle class="ca" cx="761" cy="0" r="4.82"/>
<rect class="nc" x="813.9" y="-5.5" width="24.8" height="11"/><rect class="co" x="838.7" y="-5.5" width="17.3" height="11"/>
<rect class="re" x="856" y="-5.6" width="4" height="11.2"/><rect class="dn" x="860" y="-5.6" width="2.3" height="11.2"/><rect class="un" x="862.3" y="-5.6" width="5" height="11.2"/>
<text class="pl" x="871.7" y="3.3">2.97%</text>
</g>
<g id="row-nymphaeae" transform="translate(0 400.08)">
<text class="nm" x="412" y="3.2">C. nymphaeae</text><rect class="hD" x="486.7" y="-5.6" width="9.3" height="11.2"/><use xlink:href="#sbox"/>
<text class="num" x="541.7" y="3.2">1884</text><circle class="cf" cx="579" cy="0" r="7.47"/>
<text class="num" x="601.7" y="3.2">91,051</text><circle class="cn" cx="657.7" cy="0" r="1.57"/>
<text class="num" x="677.3" y="3.2">52.77</text><circle class="cg" cx="715" cy="0" r="4.72"/>
<text class="num" x="728.3" y="3.2">49.83</text><circle class="ca" cx="761" cy="0" r="4.8"/>
<rect class="nc" x="814.1" y="-5.5" width="24.6" height="11"/><rect class="co" x="838.7" y="-5.5" width="17.3" height="11"/>
<rect class="re" x="856" y="-5.6" width="2.3" height="11.2"/><rect class="dn" x="858.3" y="-5.6" width="2.7" height="11.2"/><rect class="un" x="861" y="-5.6" width="2.5" height="11.2"/><rect class="sr" x="863.5" y="-5.6" width="3.2" height="11.2"/>
<text class="pl" x="871.7" y="3.3">1.85%</text>
</g>
<g id="row-simmondsii" transform="translate(0 412.84)">
<text class="nm" x="412" y="3.2">C. simmondsii</text><rect class="hD" x="486.7" y="-5.6" width="9.3" height="11.2"/><use xlink:href="#sbox"/>
<text class="num" x="541.7" y="3.2">929</text><circle class="cf" cx="579" cy="0" r="5.24"/>
<text class="num" x="601.7" y="3.2">292,136</text><circle class="cn" cx="657.7" cy="0" r="2.81"/>
<text class="num" x="677.3" y="3.2">51.84</text><circle class="cg" cx="715" cy="0" r="4.68"/>
<text class="num" x="728.3" y="3.2">50.42</text><circle class="ca" cx="761" cy="0" r="4.83"/>
<rect class="nc" x="813.6" y="-5.5" width="25.1" height="11"/><rect class="co" x="838.7" y="-5.5" width="17.3" height="11"/>
<rect class="re" x="856" y="-5.6" width="3.3" height="11.2"/><rect class="un" x="859.3" y="-5.6" width="10" height="11.2"/>
<text class="pl" x="877.3" y="3.3">3.52%</text>
</g>

<g id="legend-host">
<rect class="hB" x="410" y="424.8" width="9.3" height="10.4"/><text class="lg" x="422.3" y="432.5">Associated with dicot and monocot</text>
<rect class="hD" x="410" y="437.1" width="9.3" height="10.4"/><text class="lg" x="422.3" y="444.8">Associated with dicot</text>
<rect class="hM" x="410" y="449.1" width="9.3" height="10.4"/><text class="lg" x="422.3" y="456.8">Associated with monocot</text>
<rect x="410" y="461.8" width="9.3" height="10.4" fill="#7f7f7f"/><text class="bx" x="414.7" y="470.8">L</text><text class="lg" x="422.3" y="469.5">Sequenced with long reads</text>
<rect x="410" y="474.1" width="9.3" height="10.4" fill="#bfbfbf"/><text class="bx" x="414.7" y="483.1">S</text><text class="lg" x="422.3" y="481.8">Sequenced with short reads</text>
</g>

<g id="headers">
<text class="hd" x="563.5" y="464">&#35; of fragments</text>
<text class="hd" x="631.7" y="464">N50</text>
<text class="hd" x="703.3" y="464">GC%</text>
<text class="hd" x="789.5" y="464">Assembly size  (Mb)</text>
<text class="hd" x="1011.7" y="464">Repetitive elements</text>
</g>

<g id="legend-bars" font-size="6.5" fill="#7f7f7f">
<rect class="co" x="773.3" y="433" width="4" height="4"/><text x="779" y="437.3">Coding</text>
<rect class="nc" x="805" y="433" width="4" height="4"/><text x="810.7" y="437.3">Not Coding</text>
<rect class="re" x="861.5" y="433" width="4" height="4"/><text x="867" y="437.3">Retroelements</text>
<rect class="dn" x="916.5" y="433" width="4" height="4"/><text x="922" y="437.3">DNA transposons</text>
<rect class="un" x="978.5" y="433" width="4" height="4"/><text x="984" y="437.3">Unclassified</text>
<rect class="sr" x="1025.5" y="433" width="4" height="4"/><text x="1031" y="437.3">Simple repeats</text>
<rect class="lc" x="1081.5" y="433" width="4" height="4"/><text x="1087" y="437.3">low complexity</text>
</g>
</svg>
